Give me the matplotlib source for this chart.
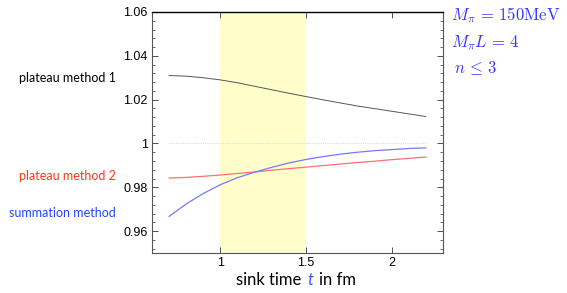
import matplotlib
matplotlib.use("Agg")
import matplotlib.pyplot as plt
from matplotlib.ticker import MultipleLocator
from matplotlib.offsetbox import TextArea, HPacker, AnchoredOffsetbox

# curves (sink time t in fm)
t = [0.7, 0.8, 0.9, 1.0, 1.1, 1.2, 1.3, 1.4, 1.5, 1.6, 1.7, 1.8, 1.9, 2.0, 2.1, 2.2]
plateau1 = [1.0310, 1.0307, 1.0300, 1.0290, 1.0277, 1.0261, 1.0245, 1.0229, 1.0214,
            1.0199, 1.0185, 1.0171, 1.0159, 1.0147, 1.0135, 1.0123]
plateau2 = [0.9842, 0.9845, 0.9850, 0.9856, 0.9863, 0.9870, 0.9878, 0.9885, 0.9892,
            0.9899, 0.9906, 0.9913, 0.9919, 0.9926, 0.9932, 0.9938]
summation = [0.9667, 0.9724, 0.9772, 0.9812, 0.9844, 0.9869, 0.9891, 0.9911, 0.9927,
             0.9940, 0.9951, 0.9960, 0.9967, 0.9972, 0.9977, 0.9980]
band = (1.0, 1.5)

fig = plt.figure(figsize=(5.67, 2.93), dpi=100)
ax = fig.add_axes([152 / 567, 1 - 253 / 293, (443 - 152) / 567, (253 - 12) / 293])

ax.axvspan(*band, color="#ffffcc", lw=0, zorder=0)
ax.plot([t[0], t[-1]], [1, 1], color="#dddddd", lw=0.8, ls=(0, (1, 1)))
ax.plot(t, plateau1, color="#555555", lw=0.7)
ax.plot(t, plateau2, color="#ff7070", lw=0.9)
ax.plot(t, summation, color="#7777ff", lw=0.9)

ax.set_xlim(0.6, 2.3)
ax.set_ylim(0.95, 1.06)
ax.set_xticks([1, 1.5, 2])
ax.set_xticklabels(["1", "1.5", "2"])
ax.set_yticks([0.96, 0.98, 1.0, 1.02, 1.04, 1.06])
ax.set_yticklabels(["0.96", "0.98", "1", "1.02", "1.04", "1.06"])
ax.yaxis.set_minor_locator(MultipleLocator(0.004))
ax.tick_params(which="both", direction="in", top=True, right=True, labelsize=9,
               colors="#333333", labelcolor="black", pad=3)
ax.tick_params(which="major", length=4, width=0.6)
ax.tick_params(which="minor", length=2, width=0.5)
for lbl in ax.get_xticklabels() + ax.get_yticklabels():
    lbl.set_family("Liberation Sans")
for s in ["left", "bottom", "right"]:
    ax.spines[s].set_color("#555555")
    ax.spines[s].set_linewidth(0.8)
ax.spines["top"].set_color("black")
ax.spines["top"].set_linewidth(1.0)

# method labels on the left
lab = dict(fontsize=9, family="Lato", ha="right", va="center")
fig.text(116 / 567, 1 - 78 / 293, "plateau method 1", color="black", **lab)
fig.text(116 / 567, 1 - 176 / 293, "plateau method 2", color="#ff3322", **lab)
fig.text(116 / 567, 1 - 213 / 293, "summation method", color="#2244ff", **lab)

# parameters on the right
plt.rcParams["mathtext.fontset"] = "cm"
par = dict(fontsize=12, color="#3333ff", ha="left", va="center")
fig.text(451 / 567, 1 - 15 / 293, r"$M_\pi\, =\, 150\mathrm{MeV}$", **par)
fig.text(451 / 567, 1 - 43 / 293, r"$M_\pi L\, =\, 4$", **par)
fig.text(454 / 567, 1 - 68 / 293, r"$n\, \leq\, 3$", **par)

# x label with blue italic t
tp = dict(fontsize=12, family="Lato")
parts = [TextArea("sink time", textprops=dict(color="black", **tp)),
         TextArea("t", textprops=dict(color="#3355ff", style="italic", **tp)),
         TextArea("in fm", textprops=dict(color="black", **tp))]
box = HPacker(children=parts, align="baseline", pad=0, sep=4)
anch = AnchoredOffsetbox(loc="center", child=box, frameon=False,
                         bbox_to_anchor=(296 / 567, 1 - 280 / 293),
                         bbox_transform=fig.transFigure, borderpad=0, pad=0)
fig.add_artist(anch)

fig.savefig("out.png", dpi=100)
